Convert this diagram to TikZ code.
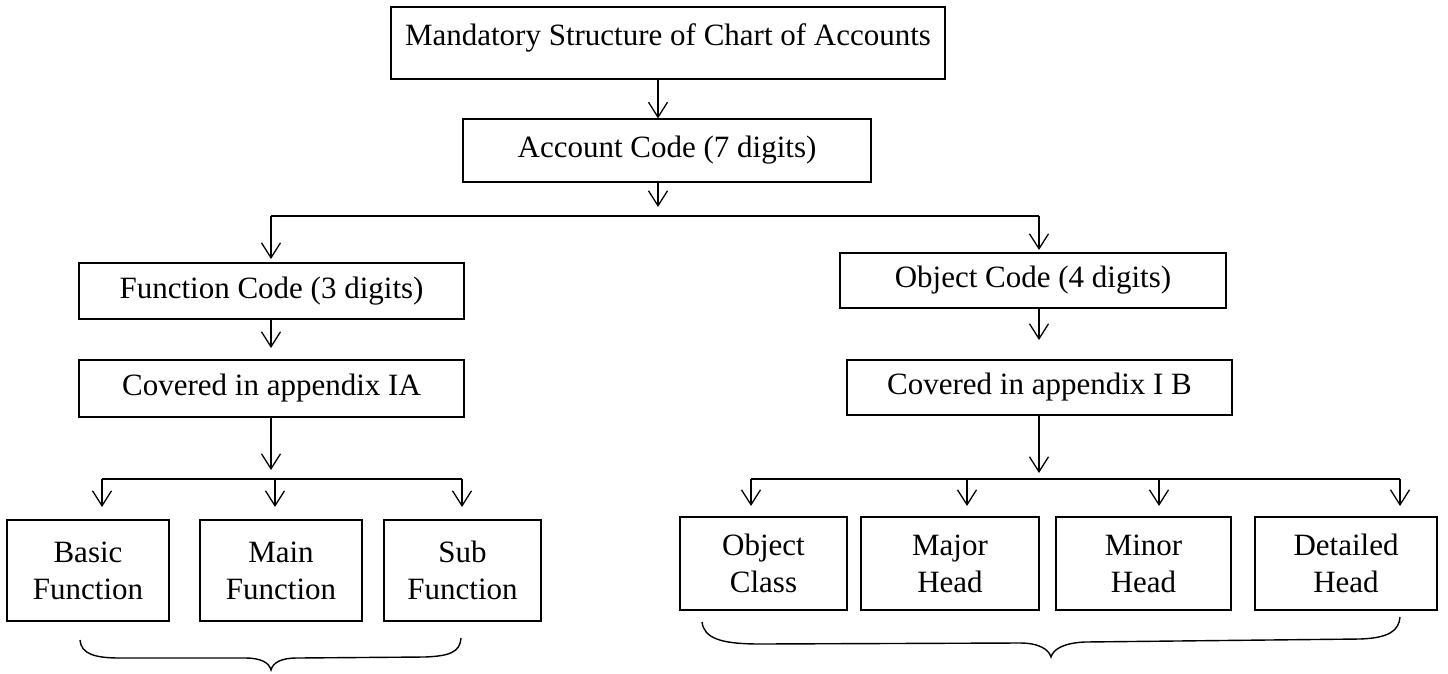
\documentclass[tikz,border=0pt]{standalone}
\usepackage{fontspec}
\setmainfont{Liberation Serif}
\usetikzlibrary{arrows.meta}
\begin{document}
\begin{tikzpicture}[x=1pt,y=-1pt,
  box/.style={draw=black,line width=1.2pt,inner sep=0pt,align=center,
    font=\fontsize{31}{37}\selectfont},
  arr/.style={line width=1.3pt,-{Straight Barb[length=15pt,width=19pt,line width=1.3pt]}},
  hline/.style={line width=2pt},
  bracestyle/.style={line width=1.4pt}]
\useasboundingbox (0,0) rectangle (1448,673);
% boxes
\node[box,minimum width=554pt,text height=32pt,text depth=28pt,inner ysep=6pt] (top) at (668,43) {Mandatory Structure of Chart of Accounts};
\node[box,minimum width=408pt,minimum height=63pt] (acc) at (667,150.5) {Account Code (7 digits)};
\node[box,minimum width=385pt,minimum height=56pt] (func) at (271.5,291) {Function Code (3 digits)};
\node[box,minimum width=385pt,minimum height=57pt] (ia) at (271.5,388.5) {Covered in appendix IA};
\node[box,minimum width=386pt,minimum height=55pt] (obj) at (1033,280.5) {Object Code (4 digits)};
\node[box,minimum width=385pt,minimum height=55pt] (ib) at (1039.5,387.5) {Covered in appendix I B};
\node[box,minimum width=162pt,minimum height=101pt] (basic) at (88,570.5) {Basic\\Function};
\node[box,minimum width=162pt,minimum height=101pt] (main) at (281,570.5) {Main\\Function};
\node[box,minimum width=157pt,minimum height=101pt] (sub) at (462.5,570.5) {Sub\\Function};
\node[box,minimum width=167pt,minimum height=93pt] (ocls) at (763.5,563.5) {Object\\Class};
\node[box,minimum width=178pt,minimum height=93pt] (major) at (950,563.5) {Major\\Head};
\node[box,minimum width=175pt,minimum height=93pt] (minor) at (1143.5,563.5) {Minor\\Head};
\node[box,minimum width=182pt,minimum height=93pt] (detail) at (1346,563.5) {Detailed\\Head};
% helper coordinates
\coordinate (a1) at (658,207);
\coordinate (jl) at (271,216);
\coordinate (jr) at (1039,216);
\coordinate (f1) at (271,259);
\coordinate (o1) at (1039,250);
\coordinate (f2) at (271,348);
\coordinate (o2) at (1039,340);
\coordinate (i1) at (271,470);
\coordinate (b1) at (1039,473);
\coordinate (ll) at (102,479);
\coordinate (lm) at (275,479);
\coordinate (lr) at (462,479);
\coordinate (r1) at (751,479);
\coordinate (r2) at (967,479);
\coordinate (r3) at (1159,479);
\coordinate (r4) at (1400,479);
% connectors
\draw[arr] (top.south -| a1) -- (acc.north -| a1);
\draw[arr] (acc.south -| a1) -- (a1);
\draw[hline] (jl) -- (jr);
\draw[arr] (jl) -- (f1);
\draw[arr] (jr) -- (o1);
\draw[arr] (func.south -| f2) -- (f2);
\draw[arr] (obj.south -| o2) -- (o2);
\draw[arr] (ia.south -| i1) -- (i1);
\draw[arr] (ib.south -| b1) -- (b1);
\draw[hline] (ll) -- (lr);
\draw[arr] (ll) -- ++(0,28);
\draw[arr] (lm) -- ++(0,28);
\draw[arr] (lr) -- ++(0,28);
\draw[hline] (r1) -- (r4);
\draw[arr] (r1) -- ++(0,27);
\draw[arr] (r2) -- ++(0,27);
\draw[arr] (r3) -- ++(0,27);
\draw[arr] (r4) -- ++(0,27);
% braces
\draw[bracestyle] (80,640) .. controls (81,654) and (95,658) .. (120,658) -- (245,658)
  .. controls (262,658) and (269,663) .. (271,670)
  .. controls (273,663) and (280,658) .. (297,658) -- (425,657)
  .. controls (450,656) and (460,652) .. (461,638);
\draw[bracestyle] (702,622) .. controls (704,638) and (720,644) .. (760,644) -- (1020,643)
  .. controls (1040,643) and (1049,650) .. (1051,657)
  .. controls (1053,650) and (1062,643) .. (1085,642) -- (1360,639)
  .. controls (1390,638) and (1399,630) .. (1400,617);
\end{tikzpicture}
\end{document}
